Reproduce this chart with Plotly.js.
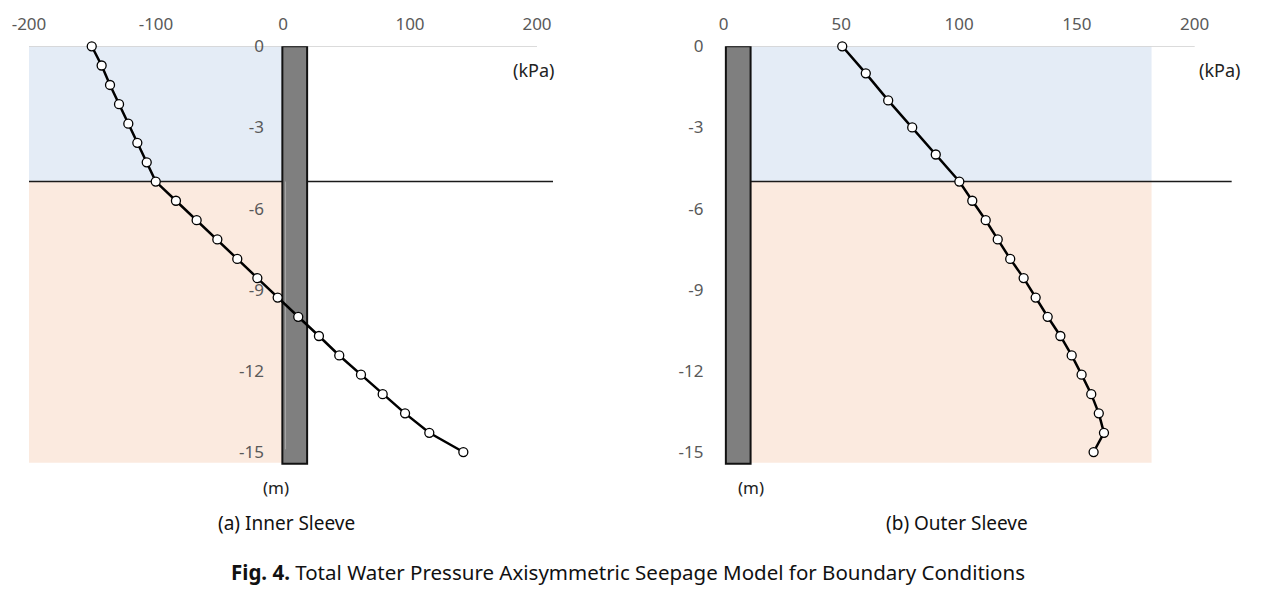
<!DOCTYPE html>
<html>
<head>
<meta charset="utf-8">
<script src="https://cdn.plot.ly/plotly-3.0.1.min.js"></script>
<style>
  html, body { margin: 0; padding: 0; background: #fff; }
  #fig { width: 1261px; height: 591px; }
</style>
</head>
<body>
<div id="fig"></div>
<script>
// depth (m) and total water pressure (kPa)
const innerDepth = [0, -0.71, -1.43, -2.14, -2.86, -3.57, -4.29, -5, -5.71, -6.43, -7.14,
  -7.86, -8.57, -9.29, -10, -10.71, -11.43, -12.14, -12.86, -13.57, -14.29, -15];
const innerPressure = [-150.6, -142.8, -136.2, -129.1, -121.8, -114.7, -107.3, -100.2, -84.3, -68.0, -51.7,
  -36.0, -20.2, -4.2, 12.0, 28.3, 44.3, 61.4, 78.5, 96.1, 115.2, 142.0];

const outerDepth = [0, -1, -2, -3, -4, -5, -5.71, -6.43, -7.14, -7.86, -8.57, -9.29, -10,
  -10.71, -11.43, -12.14, -12.86, -13.57, -14.29, -15];
const outerPressure = [50.4, 60.4, 69.9, 80.1, 90.1, 100.1, 105.6, 111.3, 116.4, 121.7, 127.4, 132.5, 137.6,
  143.0, 147.8, 152.0, 156.1, 159.3, 161.5, 157.1];

const innerXTicks = [-200, -100, 0, 100, 200];
const outerXTicks = [0, 50, 100, 150, 200];
const depthTicks = [0, -3, -6, -9, -12, -15];
const waterTable = -5;
const captions = ["(a) Inner Sleeve", "(b) Outer Sleeve"];
const figTitle = "<b>Fig. 4.</b> Total Water Pressure Axisymmetric Seepage Model for Boundary Conditions";

const W = 1261, H = 591;
const tickFont = {family: "Noto Sans, Open Sans, sans-serif", size: 17, color: "#595959"};
const blue = "#E4ECF6", sand = "#FBEADF";

function curve(x, y, xa, ya) {
  return {
    x: x, y: y, xaxis: xa, yaxis: ya, type: "scatter", mode: "lines+markers",
    cliponaxis: false, hoverinfo: "skip",
    line: {color: "#000", width: 2.5},
    marker: {size: 9, color: "#fff", line: {color: "#000", width: 1.3}}
  };
}

function hText(v) { return String(v); } // hyphen instead of unicode minus

function xAxis(range, domain, ticks) {
  return {
    range: range, domain: domain, side: "top", anchor: "y",
    showgrid: false, zeroline: false, showline: false, ticks: "",
    tickvals: ticks, ticktext: ticks.map(hText), tickfont: tickFont,
    ticklabelstandoff: 12, fixedrange: true
  };
}
function yAxis(extra) {
  return Object.assign({
    range: [-16.5, 0], domain: [1 - 492.6 / H, 1 - 46.3 / H],
    showgrid: false, zeroline: false, showline: false, ticks: "",
    tickvals: depthTicks, ticktext: depthTicks.map(hText), tickfont: tickFont,
    ticklabelstandoff: 19, fixedrange: true
  }, extra);
}

function rect(xr, yr, x0, x1, y0, y1, fill, line) {
  return {type: "rect", xref: xr, yref: yr, x0: x0, x1: x1, y0: y0, y1: y1, layer: "below",
    fillcolor: fill, line: line || {width: 0}};
}
function hline(xr, yr, x0, x1, y, color, w) {
  return {type: "line", xref: xr, yref: yr, x0: x0, x1: x1, y0: y, y1: y, layer: "below",
    line: {color: color, width: w}};
}

const shapes = [
  // inner sleeve
  rect("x", "y", -200, 0, waterTable, 0, blue),
  rect("x", "y", -200, 0, -15.4, waterTable, sand),
  hline("x", "y", -200, 200, 0, "#cfcfcf", 1.5),
  hline("x", "y", -200, 212.6, waterTable, "#1a1a1a", 1.5),
  rect("x", "y", -0.5, 19, -15.43, 0, "#7f7f7f", {color: "#111", width: 2}),
  {type: "line", xref: "x", yref: "y", x0: 2, x1: 2, y0: -5, y1: -14.9, layer: "below",
    line: {color: "#a6a6a6", width: 1}},
  // outer sleeve
  rect("x2", "y2", 11.5, 181.7, waterTable, 0, blue),
  rect("x2", "y2", 11.5, 181.7, -15.4, waterTable, sand),
  hline("x2", "y2", 1, 200, 0, "#cfcfcf", 1.5),
  hline("x2", "y2", 11.5, 215.7, waterTable, "#1a1a1a", 1.5),
  rect("x2", "y2", 1, 11.5, -15.43, 0, "#7f7f7f", {color: "#111", width: 2})
];

const unitFont = {family: "Noto Sans, Open Sans, sans-serif", size: 18, color: "#222"};
const mFont = {family: "Noto Sans, Open Sans, sans-serif", size: 17, color: "#222"};
const capFont = {family: "Noto Sans, Open Sans, sans-serif", size: 19, color: "#111"};
const titleFont = {family: "Noto Sans, Open Sans, sans-serif", size: 20.5, color: "#111"};

function note(xr, yr, x, y, text, font) {
  return {xref: xr, yref: yr, x: x, y: y, text: text, showarrow: false, font: font,
    xanchor: "center", yanchor: "middle"};
}

const annotations = [
  note("x", "y", 196.9, -0.88, "(kPa)", unitFont),
  note("x2", "y2", 210.7, -0.88, "(kPa)", unitFont),
  note("x", "y", -5.5, -16.3, "(m)", mFont),
  note("x2", "y2", 11.7, -16.3, "(m)", mFont),
  note("paper", "paper", 286 / W, 1 - 523 / H, captions[0], capFont),
  note("paper", "paper", 957 / W, 1 - 523 / H, captions[1], capFont),
  note("paper", "paper", 628 / W, 1 - 572 / H, figTitle, titleFont)
];

const layout = {
  width: W, height: H,
  margin: {l: 0, r: 0, t: 0, b: 0},
  paper_bgcolor: "#fff", plot_bgcolor: "rgba(0,0,0,0)",
  showlegend: false,
  xaxis: xAxis([-200, 215], [29 / W, 556.05 / W], innerXTicks),
  yaxis: yAxis({anchor: "free", position: 283 / W}),
  xaxis2: Object.assign(xAxis([0, 220], [723.5 / W, 1241.8 / W], outerXTicks), {anchor: "y2"}),
  yaxis2: yAxis({anchor: "x2"}),
  shapes: shapes,
  annotations: annotations
};

Plotly.newPlot("fig", [
  curve(innerPressure, innerDepth, "x", "y"),
  curve(outerPressure, outerDepth, "x2", "y2")
], layout, {staticPlot: true});
</script>
</body>
</html>
